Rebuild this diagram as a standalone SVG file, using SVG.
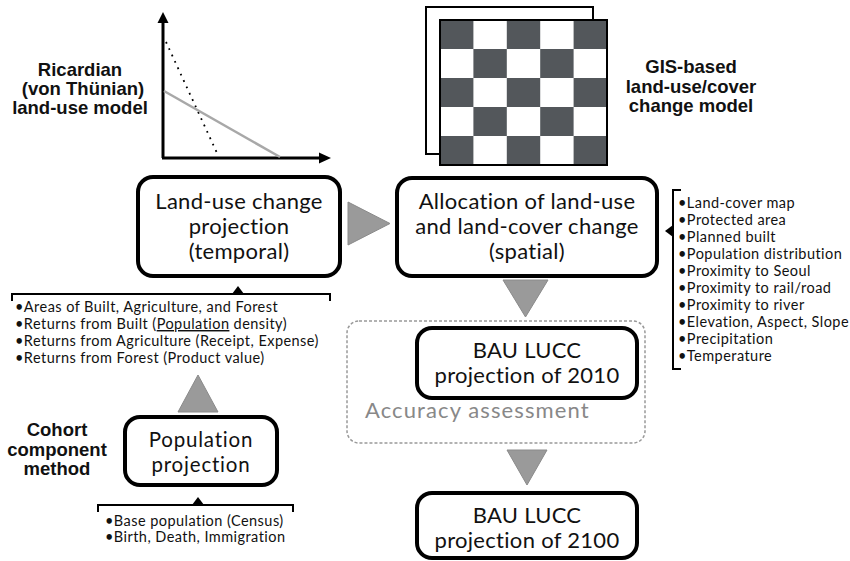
<svg xmlns="http://www.w3.org/2000/svg" width="850" height="561" viewBox="0 0 850 561">
<style>
.lbl{font-family:"Liberation Sans",Arial,sans-serif;font-weight:bold;font-size:18.5px;fill:#111;text-anchor:middle}
.box{fill:#fff;stroke:#000;stroke-width:4}
.bt{font-family:Lato,"Open Sans",sans-serif;font-size:22px;letter-spacing:0.3px;fill:#111;text-anchor:middle}
.bl{font-family:Lato,"Open Sans",sans-serif;font-size:14.5px;letter-spacing:0.45px;fill:#111}
.tri{fill:#9a9a9a;stroke:#8a8a8a;stroke-width:1}
.br{fill:none;stroke:#000;stroke-width:2}
.dk{fill:#53575b}
</style>
<rect width="850" height="561" fill="#fff"/>
<g id="ricardian-graph">
<line x1="163" y1="158" x2="163" y2="20" stroke="#000" stroke-width="3"/>
<polygon points="163,12 157.5,23 168.5,23" fill="#000"/>
<line x1="162" y1="158" x2="322" y2="158" stroke="#000" stroke-width="3"/>
<polygon points="331,158 319,152.5 319,163.5" fill="#000"/>
<line x1="166" y1="42" x2="217" y2="153" stroke="#000" stroke-width="1.8" stroke-dasharray="1.8 5.2"/>
<line x1="164" y1="91" x2="280" y2="157" stroke="#a8a8a8" stroke-width="2.5"/>
</g>
<g id="ricardian-label">
<text class="lbl" x="80" y="75.5">Ricardian</text>
<text class="lbl" x="83" y="95">(von Thünian)</text>
<text class="lbl" x="80" y="114">land-use model</text>
</g>
<g id="gis-map">
<rect x="426" y="7" width="167" height="147" fill="#fff" stroke="#000" stroke-width="2"/>
<rect x="440" y="20" width="167" height="145" fill="#fff"/>
<g class="dk">
<rect x="440" y="20" width="33.4" height="29"/><rect x="506.8" y="20" width="33.4" height="29"/><rect x="573.6" y="20" width="33.4" height="29"/>
<rect x="473.4" y="49" width="33.4" height="29"/><rect x="540.2" y="49" width="33.4" height="29"/>
<rect x="440" y="78" width="33.4" height="29"/><rect x="506.8" y="78" width="33.4" height="29"/><rect x="573.6" y="78" width="33.4" height="29"/>
<rect x="473.4" y="107" width="33.4" height="29"/><rect x="540.2" y="107" width="33.4" height="29"/>
<rect x="440" y="136" width="33.4" height="29"/><rect x="506.8" y="136" width="33.4" height="29"/><rect x="573.6" y="136" width="33.4" height="29"/>
</g>
<rect x="440" y="20" width="167" height="145" fill="none" stroke="#000" stroke-width="2"/>
</g>
<g id="gis-label">
<text class="lbl" x="691" y="73">GIS-based</text>
<text class="lbl" x="691" y="92.5">land-use/cover</text>
<text class="lbl" x="691" y="112">change model</text>
</g>
<g id="cohort-label">
<text class="lbl" x="57" y="436">Cohort</text>
<text class="lbl" x="57" y="456">component</text>
<text class="lbl" x="57" y="475">method</text>
</g>
<g id="landuse-projection">
<rect class="box" x="138" y="177" width="202" height="99" rx="15"/>
<text class="bt" x="239" y="209">Land-use change</text>
<text class="bt" x="239" y="234">projection</text>
<text class="bt" x="239" y="259">(temporal)</text>
</g>
<g id="allocation">
<rect class="box" x="397" y="178" width="260" height="98" rx="15"/>
<text class="bt" x="527" y="209">Allocation of land-use</text>
<text class="bt" x="527" y="234">and land-cover change</text>
<text class="bt" x="527" y="259">(spatial)</text>
</g>
<g id="accuracy-assessment">
<rect x="347" y="321" width="298" height="122" rx="12" fill="none" stroke="#999" stroke-width="1.5" stroke-dasharray="3 2"/>
<text x="365" y="418" font-family="Lato,'Open Sans',sans-serif" font-size="22" letter-spacing="1.1" fill="#888">Accuracy assessment</text>
</g>
<g id="bau-2010">
<rect class="box" x="417" y="328" width="220" height="70" rx="15"/>
<text class="bt" x="527" y="358">BAU LUCC</text>
<text class="bt" x="527" y="383">projection of 2010</text>
</g>
<g id="bau-2100">
<rect class="box" x="417" y="493" width="220" height="65" rx="15"/>
<text class="bt" x="527" y="523">BAU LUCC</text>
<text class="bt" x="527" y="548">projection of 2100</text>
</g>
<g id="population-projection">
<rect class="box" x="125" y="417" width="152" height="68" rx="15"/>
<text class="bt" x="201" y="447" style="font-size:20.5px;letter-spacing:0.8px">Population</text>
<text class="bt" x="201" y="472" style="font-size:20.5px;letter-spacing:0.8px">projection</text>
</g>
<g id="landuse-inputs">
<text class="bl" x="15" y="312">•Areas of Built, Agriculture, and Forest</text>
<text class="bl" x="15" y="329">•Returns from Built (<tspan text-decoration="underline">Population</tspan> density)</text>
<text class="bl" x="15" y="346">•Returns from Agriculture (Receipt, Expense)</text>
<text class="bl" x="15" y="363">•Returns from Forest (Product value)</text>
</g>
<g id="spatial-inputs">
<text class="bl" x="678" y="208">•Land-cover map</text>
<text class="bl" x="678" y="225">•Protected area</text>
<text class="bl" x="678" y="242">•Planned built</text>
<text class="bl" x="678" y="259">•Population distribution</text>
<text class="bl" x="678" y="276">•Proximity to Seoul</text>
<text class="bl" x="678" y="293">•Proximity to rail/road</text>
<text class="bl" x="678" y="310">•Proximity to river</text>
<text class="bl" x="678" y="327">•Elevation, Aspect, Slope</text>
<text class="bl" x="678" y="344">•Precipitation</text>
<text class="bl" x="678" y="361">•Temperature</text>
</g>
<g id="population-inputs">
<text class="bl" x="105" y="526">•Base population (Census)</text>
<text class="bl" x="105" y="542">•Birth, Death, Immigration</text>
</g>
<g id="connectors">
<polygon class="tri" points="348,202 348,245 390,223.5"/>
<polygon class="tri" points="503,280 548,280 525.5,317"/>
<polygon class="tri" points="507,450 547,450 527,485"/>
<polygon class="tri" points="178,412 218,412 198,375"/>
<path class="br" d="M12,301 V294 H330 V301"/>
<polygon points="232,294 244,294 238,286" fill="#000"/>
<path class="br" d="M681,190 H673 V369 H681"/>
<polygon points="673,225 673,237 665,231" fill="#000"/>
<path class="br" d="M98,512 V505 H293 V512"/>
<polygon points="192,505 204,505 198,497" fill="#000"/>
</g>
</svg>
